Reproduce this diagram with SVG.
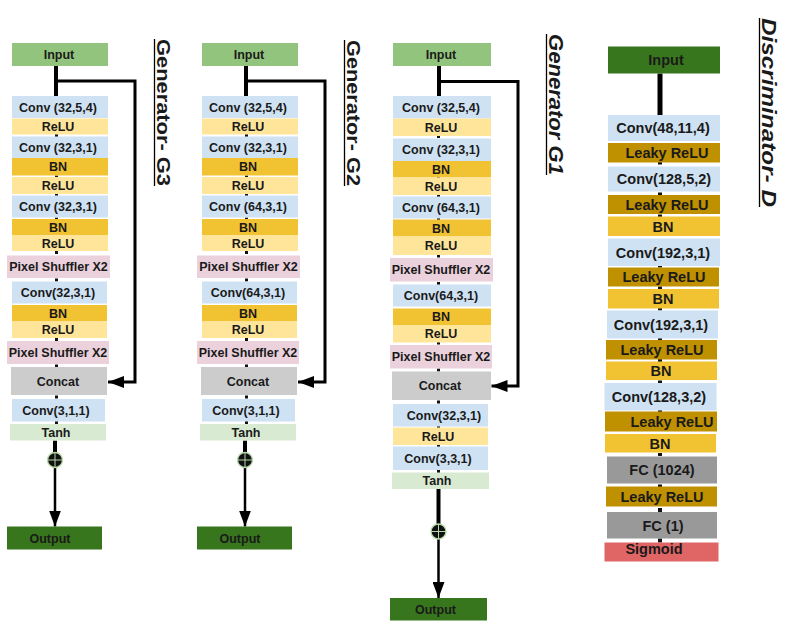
<svg xmlns="http://www.w3.org/2000/svg" width="804" height="629" viewBox="0 0 804 629">
<defs>
<style>
text{font-family:"Liberation Sans",Arial,sans-serif;font-weight:bold;fill:#1a1a1a;text-anchor:middle}
.g text{font-size:12.5px}
.d text{font-size:14.5px}
.in{fill:#93c47d}.out{fill:#38761d}.conv{fill:#cfe2f3}.relu{fill:#ffe599}.bn{fill:#f1c232}
.lrelu{fill:#bf9000}.px{fill:#ead1dc}.cat{fill:#cccccc}.tanh{fill:#d9ead3}.fc{fill:#999999}.sig{fill:#e06666}
.tk{fill:#111}
.ln{stroke:#000;fill:none}
.sum circle{fill:#111;stroke:#b6d7a8;stroke-width:1.3}
.sum line{stroke:#b6d7a8;stroke-width:1}
.title{font-size:18px;text-anchor:start}
.ul{stroke:#000;stroke-width:1.3}
</style>
<marker id="ah" markerWidth="16" markerHeight="12" refX="16" refY="6" orient="auto" markerUnits="userSpaceOnUse"><path d="M0,0 L16,6 L0,12 Z" fill="#000"/></marker>
</defs>
<rect width="804" height="629" fill="#fff"/>

<!-- Titles -->
<g id="title-g3" transform="translate(157,39) rotate(90)"><text class="title" x="0" y="0" textLength="147" lengthAdjust="spacingAndGlyphs">Generator- G3</text><line class="ul" x1="0" y1="2.5" x2="147" y2="2.5"/></g>
<g id="title-g2" transform="translate(347,40) rotate(90)"><text class="title" x="0" y="0" textLength="146" lengthAdjust="spacingAndGlyphs">Generator- G2</text><line class="ul" x1="0" y1="2.5" x2="146" y2="2.5"/></g>
<g id="title-g1" transform="translate(549,34) rotate(90)"><text class="title" x="0" y="0" style="font-size:20px;font-style:italic" textLength="141" lengthAdjust="spacingAndGlyphs">Generator G1</text><line class="ul" x1="0" y1="2.5" x2="141" y2="2.5"/></g>
<g id="title-d" transform="translate(762,18) rotate(90)"><text class="title" x="0" y="0" style="font-size:21px;font-style:italic" textLength="189" lengthAdjust="spacingAndGlyphs">Discriminator- D</text><line class="ul" x1="0" y1="2.5" x2="189" y2="2.5"/></g>

<!-- Connectors -->
<g id="connectors">
 <!-- G3 -->
 <line class="ln" x1="56" y1="66" x2="56" y2="96" stroke-width="4"/>
 <polyline class="ln" points="56,81 135,81 135,382 108,382" stroke-width="3" marker-end="url(#ah)"/>
 <line class="ln" x1="55" y1="440.5" x2="55" y2="453" stroke-width="4"/>
 <line class="ln" x1="55" y1="467" x2="55" y2="526.5" stroke-width="2.5" marker-end="url(#ah)"/>
 <!-- G2 -->
 <line class="ln" x1="246" y1="66" x2="246" y2="96" stroke-width="4"/>
 <polyline class="ln" points="246,81 325,81 325,382 298,382" stroke-width="3" marker-end="url(#ah)"/>
 <line class="ln" x1="245" y1="440.5" x2="245" y2="453" stroke-width="4"/>
 <line class="ln" x1="245" y1="467" x2="245" y2="526.5" stroke-width="2.5" marker-end="url(#ah)"/>
 <!-- G1 -->
 <line class="ln" x1="439" y1="66" x2="439" y2="96" stroke-width="4"/>
 <polyline class="ln" points="439,81.5 518,81.5 518,386 491.5,386" stroke-width="3" marker-end="url(#ah)"/>
 <line class="ln" x1="438.5" y1="489" x2="438.5" y2="524" stroke-width="4"/>
 <line class="ln" x1="438.5" y1="539" x2="438.5" y2="598" stroke-width="2.5" marker-end="url(#ah)"/>
 <!-- D -->
 <line class="ln" x1="660" y1="73.5" x2="660" y2="115" stroke-width="5"/>
 <!-- ticks -->
 <g class="tk">
  <rect x="55" y="134" width="3" height="3"/><rect x="55" y="175.5" width="3" height="3"/><rect x="55" y="193.5" width="3" height="3"/><rect x="55" y="217.5" width="3" height="3"/><rect x="55" y="251" width="3" height="3"/><rect x="55" y="278.5" width="3" height="3"/><rect x="55" y="338" width="3" height="3"/><rect x="55" y="364.5" width="3" height="3"/><rect x="55" y="395.5" width="3" height="3"/><rect x="55" y="421" width="3" height="3"/>
  <rect x="245" y="134" width="3" height="3"/><rect x="245" y="175.5" width="3" height="3"/><rect x="245" y="193.5" width="3" height="3"/><rect x="245" y="217.5" width="3" height="3"/><rect x="245" y="251" width="3" height="3"/><rect x="245" y="278.5" width="3" height="3"/><rect x="245" y="338" width="3" height="3"/><rect x="245" y="364.5" width="3" height="3"/><rect x="245" y="395.5" width="3" height="3"/><rect x="245" y="421" width="3" height="3"/>
  <rect x="437" y="135" width="3" height="3"/><rect x="437" y="176" width="3" height="3"/><rect x="437" y="194.5" width="3" height="3"/><rect x="437" y="218" width="3" height="3"/><rect x="437" y="254.5" width="3" height="3"/><rect x="437" y="282" width="3" height="3"/><rect x="437" y="341.5" width="3" height="3"/><rect x="437" y="368.5" width="3" height="3"/><rect x="437" y="400.5" width="3" height="3"/><rect x="437" y="425.5" width="3" height="3"/><rect x="437" y="444.5" width="3" height="3"/><rect x="437" y="470" width="3" height="3"/>
  <rect x="658" y="161.5" width="4" height="3"/><rect x="658" y="192.5" width="4" height="3"/><rect x="658" y="214.5" width="4" height="3"/><rect x="658" y="264.5" width="4" height="3"/><rect x="658" y="286.5" width="4" height="3"/><rect x="658" y="307.5" width="4" height="3"/><rect x="658" y="338" width="4" height="3"/><rect x="658" y="359" width="4" height="3"/><rect x="658" y="380.5" width="4" height="3"/><rect x="658" y="410" width="4" height="3"/><rect x="658" y="453" width="4" height="3"/><rect x="658" y="484.5" width="4" height="3"/><rect x="658" y="508" width="4" height="4"/><rect x="658" y="538.5" width="4" height="4"/>
 </g>
</g>

<!-- Generator G3 -->
<g id="g3" class="g">
 <g id="g3-input"><rect class="in" x="12" y="43" width="96" height="23"/><text x="59" y="59">Input</text></g>
 <g id="g3-conv1"><rect class="conv" x="12" y="96" width="96" height="22"/><text x="58" y="111.5">Conv (32,5,4)</text></g>
 <g id="g3-relu1"><rect class="relu" x="12" y="118.5" width="96" height="16"/><text x="58" y="131">ReLU</text></g>
 <g id="g3-conv2"><rect class="conv" x="12" y="136.5" width="96" height="21.5"/><text x="58" y="151.7">Conv (32,3,1)</text></g>
 <g id="g3-bn1"><rect class="bn" x="12" y="158" width="96" height="17.5"/><text x="58" y="171.2">BN</text></g>
 <g id="g3-relu2"><rect class="relu" x="12" y="177" width="96" height="17"/><text x="58" y="190">ReLU</text></g>
 <g id="g3-conv3"><rect class="conv" x="12" y="195.5" width="96" height="22"/><text x="58" y="211">Conv (32,3,1)</text></g>
 <g id="g3-bn2"><rect class="bn" x="12" y="219" width="96" height="16"/><text x="58" y="231.5">BN</text></g>
 <g id="g3-relu3"><rect class="relu" x="12" y="235" width="96" height="16"/><text x="58" y="247.5">ReLU</text></g>
 <g id="g3-ps1"><rect class="px" x="7" y="255.5" width="103" height="22.5"/><text x="58.5" y="271.2">Pixel Shuffler X2</text></g>
 <g id="g3-conv4"><rect class="conv" x="12" y="281.5" width="95" height="22"/><text x="58" y="297">Conv(32,3,1)</text></g>
 <g id="g3-bn3"><rect class="bn" x="12" y="305" width="95" height="16.5"/><text x="58" y="317.7">BN</text></g>
 <g id="g3-relu4"><rect class="relu" x="12" y="321.5" width="95" height="16.5"/><text x="58" y="334.2">ReLU</text></g>
 <g id="g3-ps2"><rect class="px" x="7" y="341" width="102" height="23"/><text x="58" y="357">Pixel Shuffler X2</text></g>
 <g id="g3-concat"><rect class="cat" x="11" y="367" width="96" height="28"/><text x="58" y="385.5">Concat</text></g>
 <g id="g3-conv5"><rect class="conv" x="12" y="399" width="93" height="22.5"/><text x="56" y="414.7">Conv(3,1,1)</text></g>
 <g id="g3-tanh"><rect class="tanh" x="10" y="424" width="96" height="16.5"/><text x="56" y="436.7">Tanh</text></g>
 <g id="g3-sum" class="sum"><circle cx="55" cy="460" r="7.5"/><line x1="47.5" y1="460" x2="62.5" y2="460"/><line x1="55" y1="452.5" x2="55" y2="467.5"/></g>
 <g id="g3-output"><rect class="out" x="7" y="526.5" width="95" height="23"/><text x="50" y="542.5">Output</text></g>
</g>

<!-- Generator G2 -->
<g id="g2" class="g">
 <g id="g2-input"><rect class="in" x="202" y="43" width="96" height="23"/><text x="249" y="59">Input</text></g>
 <g id="g2-conv1"><rect class="conv" x="202" y="96" width="96" height="22"/><text x="248" y="111.5">Conv (32,5,4)</text></g>
 <g id="g2-relu1"><rect class="relu" x="202" y="118.5" width="96" height="16"/><text x="248" y="131">ReLU</text></g>
 <g id="g2-conv2"><rect class="conv" x="202" y="136.5" width="96" height="21.5"/><text x="248" y="151.7">Conv (32,3,1)</text></g>
 <g id="g2-bn1"><rect class="bn" x="202" y="158" width="96" height="17.5"/><text x="248" y="171.2">BN</text></g>
 <g id="g2-relu2"><rect class="relu" x="202" y="177" width="96" height="17"/><text x="248" y="190">ReLU</text></g>
 <g id="g2-conv3"><rect class="conv" x="202" y="195.5" width="96" height="22"/><text x="248" y="211">Conv (64,3,1)</text></g>
 <g id="g2-bn2"><rect class="bn" x="202" y="219" width="96" height="16"/><text x="248" y="231.5">BN</text></g>
 <g id="g2-relu3"><rect class="relu" x="202" y="235" width="96" height="16"/><text x="248" y="247.5">ReLU</text></g>
 <g id="g2-ps1"><rect class="px" x="197" y="255.5" width="103" height="22.5"/><text x="248.5" y="271.2">Pixel Shuffler X2</text></g>
 <g id="g2-conv4"><rect class="conv" x="202" y="281.5" width="95" height="22"/><text x="248" y="297">Conv(64,3,1)</text></g>
 <g id="g2-bn3"><rect class="bn" x="202" y="305" width="95" height="16.5"/><text x="248" y="317.7">BN</text></g>
 <g id="g2-relu4"><rect class="relu" x="202" y="321.5" width="95" height="16.5"/><text x="248" y="334.2">ReLU</text></g>
 <g id="g2-ps2"><rect class="px" x="197" y="341" width="102" height="23"/><text x="248" y="357">Pixel Shuffler X2</text></g>
 <g id="g2-concat"><rect class="cat" x="201" y="367" width="96" height="28"/><text x="248" y="385.5">Concat</text></g>
 <g id="g2-conv5"><rect class="conv" x="202" y="399" width="93" height="22.5"/><text x="246" y="414.7">Conv(3,1,1)</text></g>
 <g id="g2-tanh"><rect class="tanh" x="200" y="424" width="96" height="16.5"/><text x="246" y="436.7">Tanh</text></g>
 <g id="g2-sum" class="sum"><circle cx="245" cy="460" r="7.5"/><line x1="237.5" y1="460" x2="252.5" y2="460"/><line x1="245" y1="452.5" x2="245" y2="467.5"/></g>
 <g id="g2-output"><rect class="out" x="197" y="526.5" width="95" height="23"/><text x="240" y="542.5">Output</text></g>
</g>

<!-- Generator G1 -->
<g id="g1" class="g">
 <g id="g1-input"><rect class="in" x="393" y="43" width="98" height="23"/><text x="441" y="59">Input</text></g>
 <g id="g1-conv1"><rect class="conv" x="393" y="96" width="98" height="22.5"/><text x="441" y="111.7">Conv (32,5,4)</text></g>
 <g id="g1-relu1"><rect class="relu" x="393" y="118.5" width="98" height="17.5"/><text x="441" y="131.7">ReLU</text></g>
 <g id="g1-conv2"><rect class="conv" x="393" y="138.5" width="98" height="22.5"/><text x="441" y="154.2">Conv (32,3,1)</text></g>
 <g id="g1-bn1"><rect class="bn" x="393" y="161" width="98" height="16.5"/><text x="441" y="173.7">BN</text></g>
 <g id="g1-relu2"><rect class="relu" x="393" y="177.5" width="98" height="17.5"/><text x="441" y="190.7">ReLU</text></g>
 <g id="g1-conv3"><rect class="conv" x="393" y="196.5" width="98" height="22"/><text x="441" y="212">Conv (64,3,1)</text></g>
 <g id="g1-bn2"><rect class="bn" x="393" y="219.5" width="98" height="17"/><text x="441" y="232.5">BN</text></g>
 <g id="g1-relu3"><rect class="relu" x="393" y="236.5" width="98" height="18.5"/><text x="441" y="250.2">ReLU</text></g>
 <g id="g1-ps1"><rect class="px" x="390" y="258" width="103" height="23.5"/><text x="441" y="274.2">Pixel Shuffler X2</text></g>
 <g id="g1-conv4"><rect class="conv" x="393" y="284.5" width="98" height="22"/><text x="441" y="300">Conv(64,3,1)</text></g>
 <g id="g1-bn3"><rect class="bn" x="393" y="308.5" width="98" height="16.5"/><text x="441" y="321.2">BN</text></g>
 <g id="g1-relu4"><rect class="relu" x="393" y="325" width="98" height="17.5"/><text x="441" y="338.2">ReLU</text></g>
 <g id="g1-ps2"><rect class="px" x="390" y="345" width="102" height="23.5"/><text x="441" y="361.2">Pixel Shuffler X2</text></g>
 <g id="g1-concat"><rect class="cat" x="392" y="371.5" width="99" height="28.5"/><text x="440" y="390.2">Concat</text></g>
 <g id="g1-conv5"><rect class="conv" x="393" y="404" width="95" height="22.5"/><text x="444" y="419.7">Conv(32,3,1)</text></g>
 <g id="g1-relu5"><rect class="relu" x="393" y="427.5" width="95" height="17.5"/><text x="438" y="440.7">ReLU</text></g>
 <g id="g1-conv6"><rect class="conv" x="393" y="446.5" width="95" height="23.5"/><text x="438" y="462.7">Conv(3,3,1)</text></g>
 <g id="g1-tanh"><rect class="tanh" x="392" y="472.5" width="97" height="16.5"/><text x="437" y="485.2">Tanh</text></g>
 <g id="g1-sum" class="sum"><circle cx="438.5" cy="531.5" r="7.5"/><line x1="431" y1="531.5" x2="446" y2="531.5"/><line x1="438.5" y1="524" x2="438.5" y2="539"/></g>
 <g id="g1-output"><rect class="out" x="390" y="598" width="97" height="22.5"/><text x="435.5" y="613.7">Output</text></g>
</g>

<!-- Discriminator D -->
<g id="disc" class="d">
 <g id="d-input"><rect class="out" x="608" y="46.5" width="112" height="27"/><text x="666" y="65.2">Input</text></g>
 <g id="d-conv1"><rect class="conv" x="608" y="115" width="112" height="26"/><text x="663" y="133.2">Conv(48,11,4)</text></g>
 <g id="d-lrelu1"><rect class="lrelu" x="608" y="143" width="112" height="19.5"/><text x="667" y="158">Leaky ReLU</text></g>
 <g id="d-conv2"><rect class="conv" x="608" y="166.5" width="112" height="25"/><text x="664" y="184.2">Conv(128,5,2)</text></g>
 <g id="d-lrelu2"><rect class="lrelu" x="608" y="195" width="112" height="19"/><text x="667" y="209.7">Leaky ReLU</text></g>
 <g id="d-bn1"><rect class="bn" x="608" y="216.5" width="112" height="19.5"/><text x="663" y="231.5">BN</text></g>
 <g id="d-conv3"><rect class="conv" x="608" y="238.5" width="112" height="27.5"/><text x="663" y="257.5">Conv(192,3,1)</text></g>
 <g id="d-lrelu3"><rect class="lrelu" x="608" y="267.5" width="111" height="19"/><text x="664" y="282.2">Leaky ReLU</text></g>
 <g id="d-bn2"><rect class="bn" x="608" y="289" width="111" height="19.5"/><text x="663" y="304">BN</text></g>
 <g id="d-conv4"><rect class="conv" x="607" y="310.5" width="111" height="28"/><text x="661" y="329.7">Conv(192,3,1)</text></g>
 <g id="d-lrelu4"><rect class="lrelu" x="606" y="340" width="111" height="19.5"/><text x="662" y="355">Leaky ReLU</text></g>
 <g id="d-bn3"><rect class="bn" x="606" y="361.5" width="111" height="18.5"/><text x="661" y="376">BN</text></g>
 <g id="d-conv5"><rect class="conv" x="604.5" y="383" width="112" height="27.5"/><text x="659" y="402">Conv(128,3,2)</text></g>
 <g id="d-lrelu5"><rect class="lrelu" x="605" y="411.5" width="112" height="20"/><text x="672" y="426.7">Leaky ReLU</text></g>
 <g id="d-bn4"><rect class="bn" x="605" y="434" width="111" height="18.5"/><text x="660" y="448.5">BN</text></g>
 <g id="d-fc1"><rect class="fc" x="607" y="456.5" width="110" height="27"/><text x="662" y="475.2">FC (1024)</text></g>
 <g id="d-lrelu6"><rect class="lrelu" x="606" y="486.5" width="111" height="20"/><text x="662" y="501.7">Leaky ReLU</text></g>
 <g id="d-fc2"><rect class="fc" x="607" y="512" width="110" height="26.5"/><text x="663" y="530.5">FC (1)</text></g>
 <g id="d-sigmoid"><rect class="sig" x="604.5" y="542.5" width="114" height="19"/><text x="654" y="553.5">Sigmoid</text></g>
</g>
</svg>
